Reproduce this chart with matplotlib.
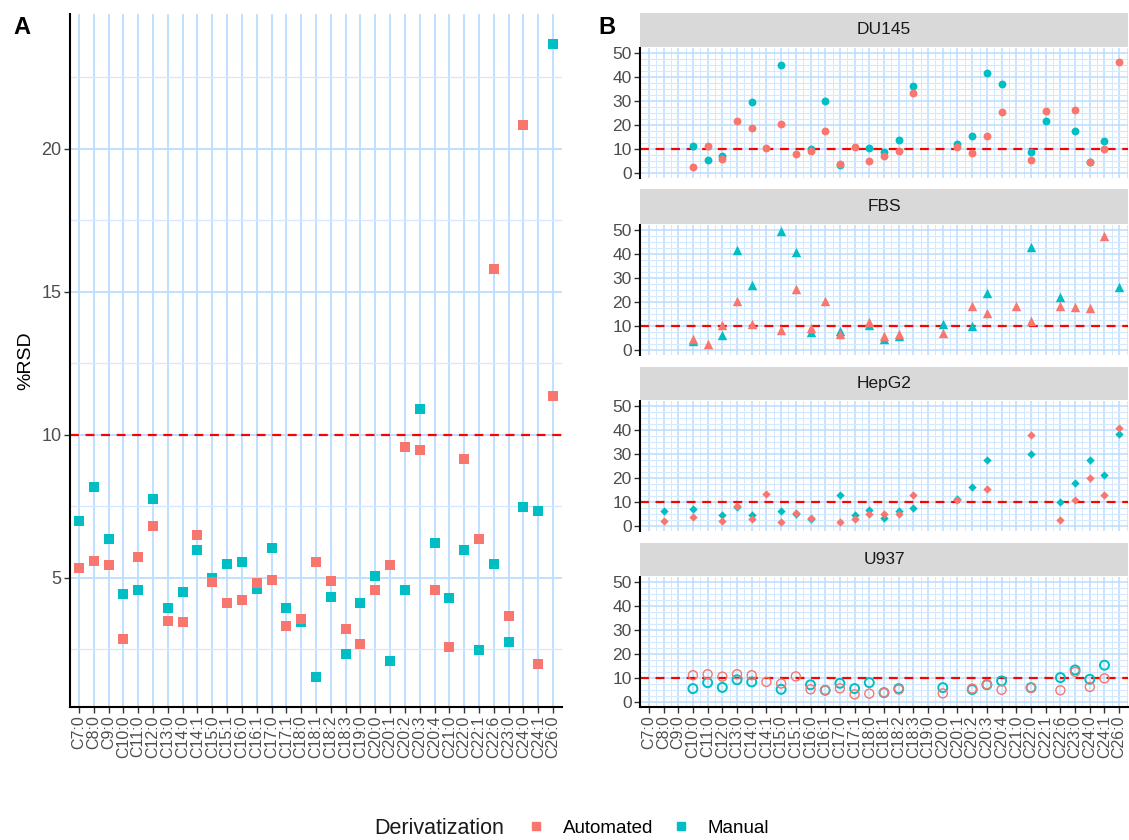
import numpy as np
import matplotlib
matplotlib.use("Agg")
import matplotlib.pyplot as plt
from matplotlib.lines import Line2D

plt.rcParams['font.family'] = ['Liberation Sans', 'DejaVu Sans']

n = np.nan
categories = ["C7:0", "C8:0", "C9:0", "C10:0", "C11:0", "C12:0", "C13:0", "C14:0", "C14:1",
              "C15:0", "C15:1", "C16:0", "C16:1", "C17:0", "C17:1", "C18:0", "C18:1", "C18:2",
              "C18:3", "C19:0", "C20:0", "C20:1", "C20:2", "C20:3", "C20:4", "C21:0", "C22:0",
              "C22:1", "C22:6", "C23:0", "C24:0", "C24:1", "C26:0"]

# Panel A
a_automated = [5.34, 5.57, 5.44, 2.85, 5.72, 6.80, 3.50, 3.44, 6.48, 4.84, 4.11, 4.22, 4.80,
               4.91, 3.32, 3.57, 5.55, 4.89, 3.20, 2.69, 4.57, 5.45, 9.57, 9.46, 4.57, 2.59,
               9.15, 6.34, 15.8, 3.68, 20.84, 1.98, 11.35]
a_manual = [7.0, 8.17, 6.35, 4.43, 4.56, 7.74, 3.95, 4.52, 5.97, 5.0, 5.48, 5.55, 4.6, 6.04,
            3.93, 3.47, 1.54, 4.32, 2.35, 4.11, 5.07, 2.1, 4.57, 10.9, 6.23, 4.30, 5.97, 2.46,
            5.49, 2.75, 7.49, 7.32, 23.66]

# Panel B
du145_automated = [n, n, n, 2.2, 11.2, 5.7, 21.7, 18.7, 10.3, 20.5, 7.9, 8.9, 17.6, 3.8, 10.7, 4.9,
                   6.8, 8.9, 33.4, n, n, 10.8, 8.1, 15.2, 25.5, n, 5.4, 25.9, n, 26.3, 4.7, 10.0, 46.5]
du145_manual = [n, n, n, 11.0, 5.3, 7.2, n, 29.7, n, 45.1, n, 9.9, 30.0, 3.1, n, 10.2, 8.7, 13.6,
                36.2, n, n, 12.2, 15.4, 41.9, 37.0, n, 8.7, 21.6, n, 17.6, 4.7, 13.1, n]
fbs_automated = [n, n, n, 4.7, 2.3, 10.4, 20.4, 10.9, n, 8.4, 25.5, 8.9, 20.5, 6.4, n, 11.8, 5.8,
                 6.5, n, n, 7.2, n, 18.1, 15.3, n, 18.3, 12.1, n, 18.3, 17.9, 17.5, 47.8, n]
fbs_manual = [n, n, n, 3.7, n, 6.2, 41.9, 27.2, n, 49.6, 40.9, 7.6, n, 7.8, n, 10.2, 4.4, 5.8, n,
              n, 10.9, n, 10.0, 23.9, n, n, 43.0, n, 22.2, n, n, n, 26.4]
hepg2_automated = [n, 1.9, n, 3.6, n, 1.9, 8.3, 3.0, 13.3, 1.4, 5.5, 3.4, n, 1.6, 3.0, 4.8, 5.1,
                   4.8, 12.9, n, n, 10.9, n, 15.4, n, n, 37.9, n, 2.2, 10.9, 19.8, 12.7, 40.9]
hepg2_manual = [n, 6.0, n, 6.8, n, 4.4, 7.7, 4.4, n, 6.3, 5.1, 2.7, n, 12.7, 4.4, 6.6, 3.3, 6.3,
                7.6, n, n, 11.3, 16.1, 27.4, n, n, 29.9, n, 10.0, 17.8, 27.5, 21.2, 38.4]
u937_automated = [n, n, n, 11.1, 11.5, 10.5, 11.5, 11.1, 8.3, 7.6, 10.6, 5.2, 4.8, 5.6, 3.1, 3.4,
                  3.8, 5.1, n, n, 3.5, n, 5.5, 7.3, 5.0, n, 5.8, n, 4.8, 12.5, 6.2, 9.8, n]
u937_manual = [n, n, n, 5.5, 8.0, 6.0, 9.2, 8.3, n, 5.2, n, 7.1, 4.8, 7.7, 5.5, 8.0, 3.8, 5.5, n,
               n, 5.9, n, 5.1, 7.1, 8.7, n, 5.9, n, 10.1, 13.3, 9.4, 15.3, n]

cell_lines = ["DU145", "FBS", "HepG2", "U937"]
threshold = 10

C_AUTO = "#F8766D"
C_MAN = "#00BFC4"
GRID = "#BBDDFF"
GRID_MINOR = "#D3E9FF"
TXT = "#4D4D4D"

W, H = 1129, 840
fig = plt.figure(figsize=(W / 100, H / 100), dpi=100)


def px_ax(x0, y0, x1, y1):
    return fig.add_axes([x0 / W, 1 - y1 / H, (x1 - x0) / W, (y1 - y0) / H])


x = np.arange(len(categories))

# ---------------- Panel A ----------------
axA = px_ax(70, 14, 562, 707)
axA.set_xlim(-0.6, len(categories) - 0.4)
axA.set_ylim(0.48, 24.72)
for xi in x:
    axA.axvline(xi, color=GRID, lw=1.3, zorder=0)
for yv in [2.5, 7.5, 12.5, 17.5, 22.5]:
    axA.axhline(yv, color=GRID_MINOR, lw=0.9, zorder=0)
for yv in [5, 10, 15, 20]:
    axA.axhline(yv, color=GRID, lw=1.3, zorder=0)
axA.axhline(threshold, color="red", lw=1.6, ls=(0, (4, 3)), zorder=1)
axA.scatter(x, a_manual, marker="s", s=44, color=C_MAN, zorder=3, linewidths=0)
axA.scatter(x, a_automated, marker="s", s=44, color=C_AUTO, zorder=4, linewidths=0)
axA.set_yticks([5, 10, 15, 20])
axA.set_xticks(x)
axA.set_xticklabels(categories, rotation=90, fontsize=11.5, color=TXT)
axA.tick_params(axis="y", labelsize=13, colors=TXT, length=4, width=1, pad=2)
axA.tick_params(axis="x", length=4, width=1, pad=2, colors=TXT)
axA.tick_params(axis="both", color="#333333")
for sp in ["top", "right"]:
    axA.spines[sp].set_visible(False)
for sp in ["left", "bottom"]:
    axA.spines[sp].set_linewidth(1.5)
    axA.spines[sp].set_color("black")
axA.set_ylabel("%RSD", fontsize=14, labelpad=5)

# ---------------- Panel B ----------------
facet_data = {
    "DU145": (du145_automated, du145_manual, dict(marker="o", s=32)),
    "FBS": (fbs_automated, fbs_manual, dict(marker="^", s=46)),
    "HepG2": (hepg2_automated, hepg2_manual, dict(marker="D", s=18)),
    "U937": (u937_automated, u937_manual, dict(marker="o", s=42)),
}
facet_rows = [(13, 47, 48, 178), (189, 224, 225, 355), (367, 400, 401, 531), (543, 576, 577, 707)]

for i, (name, (ys0, ys1, py0, py1)) in enumerate(zip(cell_lines, facet_rows)):
    auto, man, mk = facet_data[name]
    sax = px_ax(640, ys0, 1128, ys1)
    sax.set_facecolor("#D9D9D9")
    sax.set_xticks([])
    sax.set_yticks([])
    for sp in sax.spines.values():
        sp.set_visible(False)
    sax.text(0.5, 0.5, name, transform=sax.transAxes, ha="center", va="center",
             fontsize=12.5, color="#1A1A1A")

    ax = px_ax(640, py0, 1128, py1)
    ax.set_xlim(-0.6, len(categories) - 0.4)
    ax.set_ylim(-2.2, 52.2)
    for xi in x:
        ax.axvline(xi, color=GRID, lw=1.1, zorder=0)
        ax.axvline(xi + 0.5, color=GRID_MINOR, lw=0.7, zorder=0)
    for yv in np.arange(0, 52.5, 2.5):
        if yv % 10 == 0:
            ax.axhline(yv, color=GRID, lw=1.1, zorder=0)
        else:
            ax.axhline(yv, color=GRID_MINOR, lw=0.8, zorder=0)
    ax.axhline(threshold, color="red", lw=1.6, ls=(0, (4, 3)), zorder=1)
    if name == "U937":
        ax.scatter(x, man, facecolors="none", edgecolors=C_MAN, linewidths=1.4,
                   marker="o", s=mk["s"], zorder=3)
        ax.scatter(x, auto, facecolors="none", edgecolors=C_AUTO, linewidths=1.0,
                   marker="o", s=mk["s"], zorder=4)
    else:
        ax.scatter(x, man, color=C_MAN, linewidths=0, zorder=3, **mk)
        ax.scatter(x, auto, color=C_AUTO, linewidths=0, zorder=4, **mk)
    ax.set_yticks([0, 10, 20, 30, 40, 50])
    ax.tick_params(axis="y", labelsize=12.5, colors=TXT, length=4, width=1, pad=2)
    ax.tick_params(axis="y", color="#333333")
    for sp in ["top", "right"]:
        ax.spines[sp].set_visible(False)
    ax.spines["left"].set_linewidth(1.5)
    ax.spines["left"].set_color("black")
    ax.set_xticks(x)
    if i == len(cell_lines) - 1:
        ax.set_xticklabels(categories, rotation=90, fontsize=11.5, color=TXT)
        ax.tick_params(axis="x", length=4, width=1, pad=2, color="#333333")
        ax.spines["bottom"].set_linewidth(1.5)
        ax.spines["bottom"].set_color("black")
    else:
        ax.set_xticklabels([])
        ax.tick_params(axis="x", length=0)
        ax.spines["bottom"].set_visible(False)

# Panel letters
fig.text(13 / W, 1 - 27 / H, "A", fontsize=17, fontweight="bold", va="center")
fig.text(598 / W, 1 - 27 / H, "B", fontsize=17, fontweight="bold", va="center")

# Legend
fig.text(374 / W, 1 - 828 / H, "Derivatization", fontsize=15.5, va="center", color="#1A1A1A")
handles = [Line2D([], [], marker="s", ls="", color=C_AUTO, markersize=6),
           Line2D([], [], marker="s", ls="", color=C_MAN, markersize=6)]
fig.legend(handles, ["Automated", "Manual"], ncol=2, loc="center left",
           bbox_to_anchor=(510 / W, 1 - 828 / H), frameon=False, fontsize=13.5,
           handletextpad=0.9, columnspacing=1.0, handlelength=1.0)

fig.savefig("out.png", dpi=100)
